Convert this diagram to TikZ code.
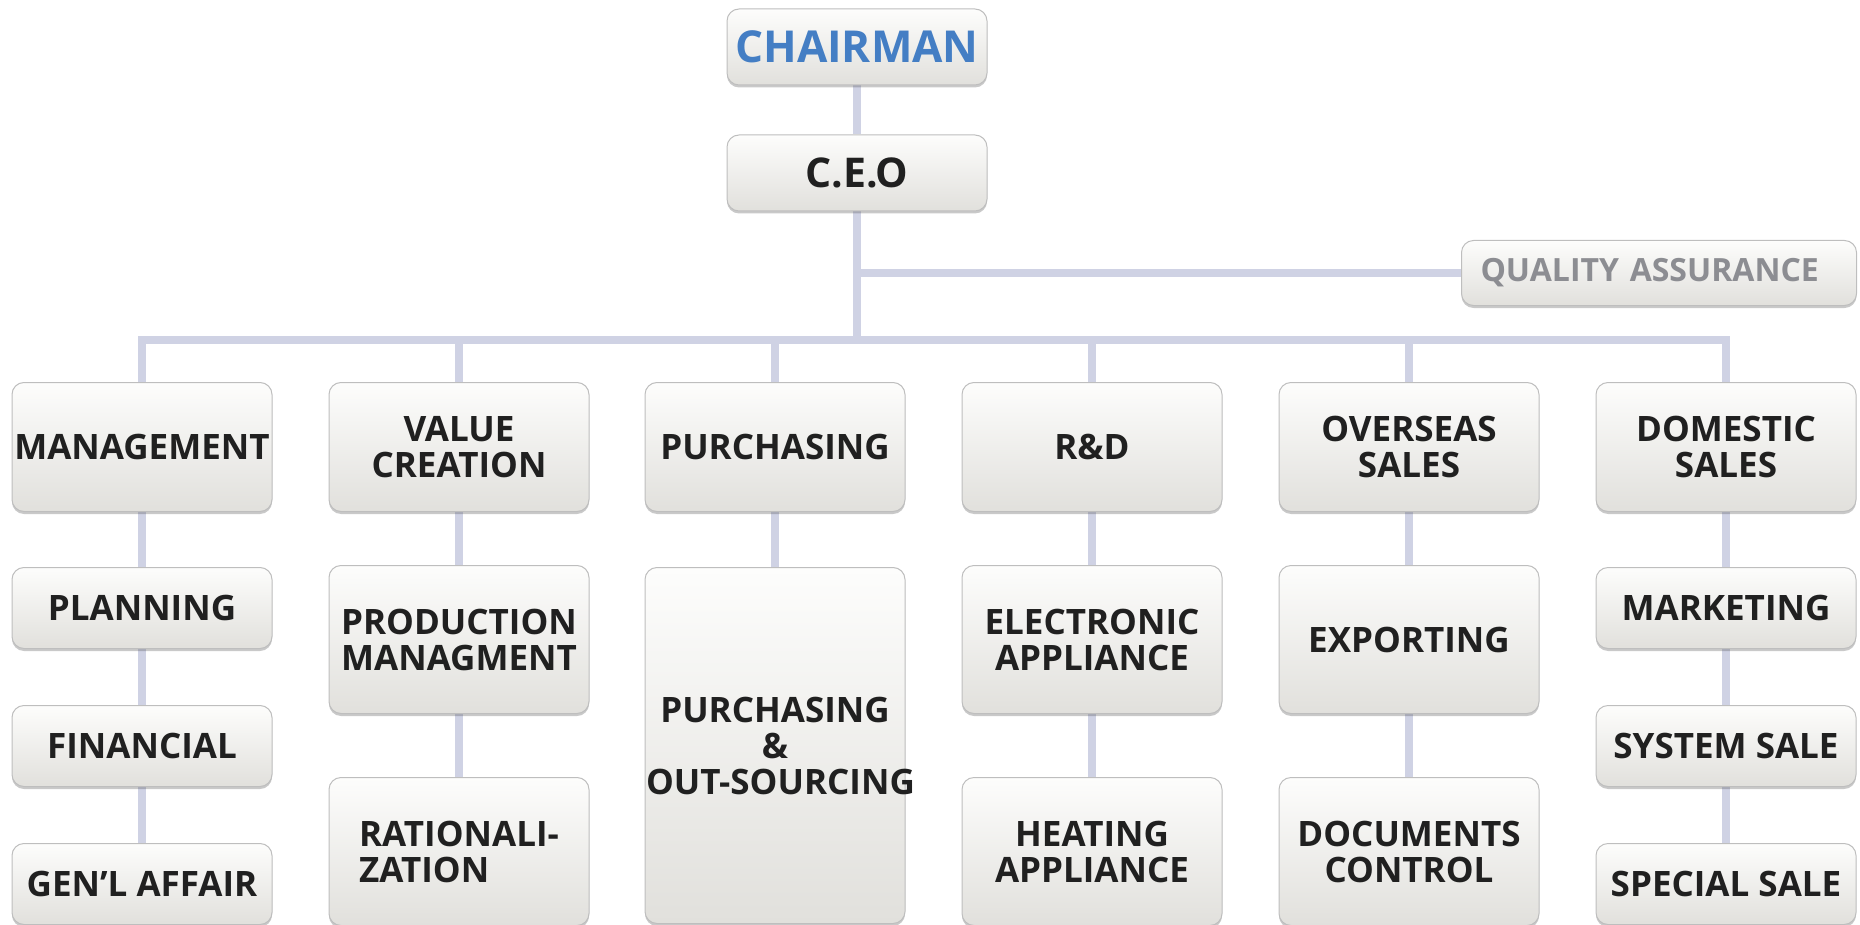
\documentclass[tikz,border=0pt]{standalone}
\usepackage{fontspec}
\setmainfont{Open Sans}
\usepackage{xcolor}
\usetikzlibrary{positioning,shadows,backgrounds}
\definecolor{linkcol}{RGB}{207,210,228}
\definecolor{boxtop}{RGB}{253,253,252}
\definecolor{boxbot}{RGB}{225,224,220}
\definecolor{boxline}{RGB}{190,190,190}
\definecolor{chairblue}{RGB}{68,126,196}
\definecolor{qagray}{RGB}{140,141,146}
\definecolor{txt}{RGB}{32,32,32}
\begin{document}
\begin{tikzpicture}[x=1pt, y=1pt, node distance=55pt,
  box/.style = {draw=boxline, line width=1pt, rounded corners=12pt, top color=boxtop, bottom color=boxbot,
    drop shadow={shadow xshift=0pt, shadow yshift=-2.5pt, opacity=0.3, fill=black!70},
    minimum width=260pt, inner sep=0pt, align=center, text=txt, font=\bfseries\fontsize{35}{36}\selectfont},
  dept/.style = {box, minimum height=129pt},
  small/.style = {box, minimum height=81pt},
  mid/.style = {box, minimum height=148pt},
  tall/.style = {box, text width=258pt, inner xsep=1pt, minimum height=356pt},
  link/.style = {draw=linkcol, line width=8pt}]
    \useasboundingbox (0,0) rectangle (1860,-925);

    \node[box, minimum height=76pt, text=chairblue, font=\bfseries\fontsize{44}{46}\selectfont] (1) at (857,-47) {CHAIRMAN};
    \node[box, minimum height=76pt, font=\bfseries\fontsize{41}{43}\selectfont] (2) at (857,-173) {C.E.O};
    \node[box, text width=357pt, inner xsep=19pt, minimum height=65pt, align=left, text=qagray, font=\bfseries\fontsize{32}{34}\selectfont] (3) at (1659,-273) {QUALITY ASSURANCE};

    % departments
    \node[dept] (4) at (142,-447) {MANAGEMENT};
    \node[dept] (5) at (459,-447) {VALUE\\CREATION};
    \node[dept] (6) at (775,-447) {PURCHASING};
    \node[dept] (7) at (1092,-447) {R\&D};
    \node[dept] (8) at (1409,-447) {OVERSEAS\\SALES};
    \node[dept] (9) at (1726,-447) {DOMESTIC\\SALES};

    % teams
    \node[small] (10) [below=55pt of 4] {PLANNING};
    \node[small] (11) [below=56pt of 10] {FINANCIAL};
    \node[small] (12) [below=56pt of 11] {GEN'L AFFAIR};
    \node[mid] (13) [below=53pt of 5] {PRODUCTION\\MANAGMENT};
    \node[mid, align=left] (14) [below=63pt of 13] {RATIONALI-\\ZATION};
    \node[tall] (15) [below=55pt of 6] {PURCHASING\\\&\\\mbox{OUT-SOURCING}};
    \node[mid] (16) [below=53pt of 7] {ELECTRONIC\\APPLIANCE};
    \node[mid] (17) [below=63pt of 16] {HEATING\\APPLIANCE};
    \node[mid] (18) [below=53pt of 8] {EXPORTING};
    \node[mid] (19) [below=63pt of 18] {DOCUMENTS\\CONTROL};
    \node[small] (20) [below=55pt of 9] {MARKETING};
    \node[small] (21) [below=56pt of 20] {SYSTEM SALE};
    \node[small] (22) [below=56pt of 21] {SPECIAL SALE};

    \begin{scope}[on background layer]
    \draw[link] (1) -- (2);
    \draw[link] (2.south) |- (3.west);
    \draw[link] (2.south) -- ++(0,-130);
    \draw[link] (4.north) -- ++(0,42) -| (9.north);
    \foreach \n in {5,6,7,8}
        \draw[link] (\n.north) -- ++(0,42);
    \draw[link] (4) -- (10) -- (11) -- (12);
    \draw[link] (5) -- (13) -- (14);
    \draw[link] (6) -- (15);
    \draw[link] (7) -- (16) -- (17);
    \draw[link] (8) -- (18) -- (19);
    \draw[link] (9) -- (20) -- (21) -- (22);
    \end{scope}
\end{tikzpicture}
\end{document}
